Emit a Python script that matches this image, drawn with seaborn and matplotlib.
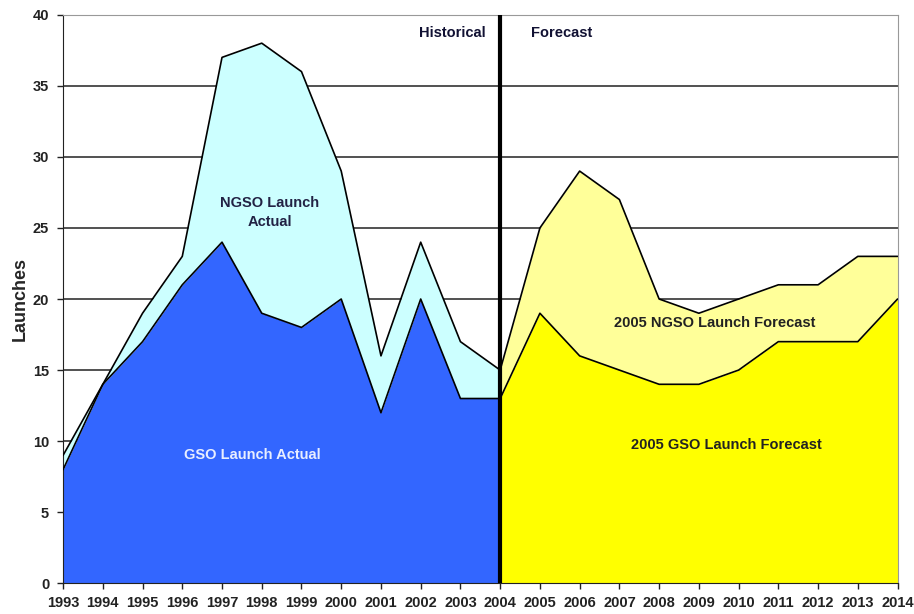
import matplotlib
matplotlib.use('Agg')
import matplotlib.pyplot as plt
import seaborn as sns
import pandas as pd

# 数据
hist_years = [1993, 1994, 1995, 1996, 1997, 1998, 1999, 2000, 2001, 2002, 2003, 2004]
hist_gso = [8, 14, 17, 21, 24, 19, 18, 20, 12, 20, 13, 13]
hist_total = [9, 14, 19, 23, 37, 38, 36, 29, 16, 24, 17, 15]

fc_years = [2004, 2005, 2006, 2007, 2008, 2009, 2010, 2011, 2012, 2013, 2014]
fc_gso = [13, 19, 16, 15, 14, 14, 15, 17, 17, 17, 20]
fc_total = [15, 25, 29, 27, 20, 19, 20, 21, 21, 23, 23]

year_ticks = list(range(1993, 2015))

sns.set_style('white')
plt.rcParams['font.family'] = ['Liberation Sans', 'DejaVu Sans']

hist = pd.DataFrame({'year': hist_years, 'gso': hist_gso, 'total': hist_total})
fc = pd.DataFrame({'year': fc_years, 'gso': fc_gso, 'total': fc_total})

fig = plt.figure(figsize=(9.14, 6.14), dpi=100)
ax = fig.add_axes([0.069, 0.050, 0.913, 0.926])

# 网格线
for v in range(5, 45, 5):
    ax.axhline(v, color='#333333', lw=1.2, zorder=0)

# 面积
ax.fill_between(hist['year'], 0, hist['gso'], color='#3366FF', lw=0, zorder=2)
ax.fill_between(hist['year'], hist['gso'], hist['total'], color='#CCFFFF', lw=0, zorder=2)
ax.fill_between(fc['year'], 0, fc['gso'], color='#FFFF00', lw=0, zorder=2)
ax.fill_between(fc['year'], fc['gso'], fc['total'], color='#FFFF99', lw=0, zorder=2)

# 轮廓线
for df in (hist, fc):
    sns.lineplot(data=df, x='year', y='gso', color='black', lw=1.2, ax=ax, zorder=3)
    sns.lineplot(data=df, x='year', y='total', color='black', lw=1.2, ax=ax, zorder=3)

ax.axvline(2004, color='black', lw=3, zorder=4)

# 文字
bold = dict(fontsize=10.5, fontweight='bold', ha='center', va='center', zorder=5)
ax.text(2002.8, 38.7, 'Historical', color='#111133', **bold)
ax.text(2005.55, 38.7, 'Forecast', color='#111133', **bold)
ax.text(1998.2, 26.1, 'NGSO Launch\nActual', color='#222244', linespacing=1.5, **bold)
ax.text(1997.75, 9.0, 'GSO Launch Actual', color='#E8EEFF', **bold)
ax.text(2009.4, 18.3, '2005 NGSO Launch Forecast', color='#222222', **bold)
ax.text(2009.7, 9.7, '2005 GSO Launch Forecast', color='#222222', **bold)

ax.set_xlim(1993, 2014)
ax.set_ylim(0, 40)
ax.set_xticks(year_ticks)
ax.set_xticklabels([str(y) for y in year_ticks])
ax.set_yticks(range(0, 45, 5))
ax.tick_params(axis='both', direction='out', length=4, width=1, colors='#222222',
               labelsize=10.5, bottom=True, left=True)
ax.tick_params(axis='x', pad=5)
ax.tick_params(axis='y', pad=6)
for lab in ax.get_xticklabels() + ax.get_yticklabels():
    lab.set_fontweight('bold')
ax.set_xlabel('')
ax.set_ylabel('Launches', fontsize=13, fontweight='bold', labelpad=3)

for side in ['top', 'right']:
    ax.spines[side].set_color('#999999')
for side in ['left', 'bottom']:
    ax.spines[side].set_color('#222222')

fig.savefig('out.png', dpi=100)
plt.close(fig)
